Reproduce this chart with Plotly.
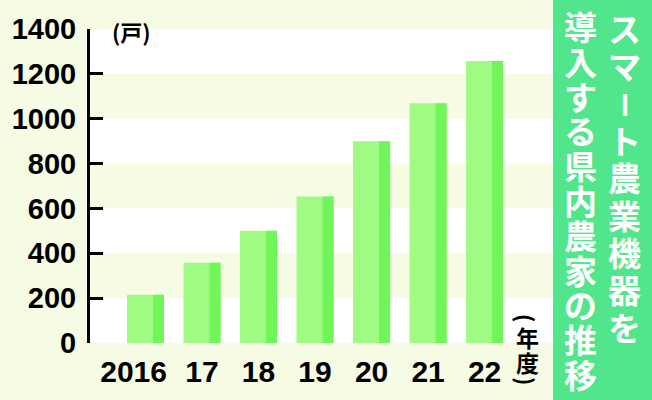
import plotly.graph_objects as go

# ---- data ----
years = ["2016", "17", "18", "19", "20", "21", "22"]
households = [215, 358, 501, 653, 899, 1069, 1257]
y_ticks = [0, 200, 400, 600, 800, 1000, 1200, 1400]
title_col1 = ["スマ", "ー", "ト農業機器を"]
title_col2 = "導入する県内農家の推移"
unit_y = "(戸)"
unit_x = ["(", "年度", ")"]

W, H = 652, 400
ML, MR, MT, MB = 90, 99, 29, 57
PW, PH = W - ML - MR, H - MT - MB

def px(x):
    return (x - ML) / PW

def py(y):
    return (H - MB - y) / PH

def stack(s, size):
    return "<br>".join('<span style="font-size:%dpx">%s</span>' % (size, c) for c in s)

CREAM = "#f6fbe3"
BAR = "#9ffb82"
BAR_DARK = "#70f55a"
PANEL = "#52e68c"
JP = "Noto Sans CJK JP"

xs = list(range(len(years)))
# label positions: the first (4-digit) label is nudged left as in the original
label_pos = [i - (0.21 if i == 0 else 0) for i in xs]

fig = go.Figure()
fig.add_trace(go.Bar(x=xs, y=households, width=0.655, offset=-0.3275,
                     marker=dict(color=BAR, line=dict(width=0)), hoverinfo="skip"))
fig.add_trace(go.Bar(x=xs, y=households, width=0.195, offset=0.1325,
                     marker=dict(color=BAR_DARK, line=dict(width=0)), hoverinfo="skip"))

shapes = []
for lo in (0, 400, 800, 1200):
    shapes.append(dict(type="rect", xref="paper", yref="y", x0=0, x1=1, y0=lo, y1=lo + 200,
                       fillcolor="white", line=dict(width=0), layer="below"))
shapes.append(dict(type="rect", xref="paper", yref="paper", x0=px(553), x1=px(W + 5),
                   y0=py(H + 5), y1=py(-5), fillcolor=PANEL, line=dict(width=0), layer="above"))

ann = []
# right column (vertical text), pitch 37.3 px
p1 = 37.3
b1 = p1 / 1.3
c0 = 30
ann.append(dict(text=stack(title_col1[0], 33), xref="paper", yref="paper",
                x=px(624), y=py(c0 + 0.5 * p1 - 2), showarrow=False, borderpad=0,
                xanchor="center", yanchor="middle",
                font=dict(family=JP, size=b1, color="white", weight="bold")))
ann.append(dict(text=title_col1[1], xref="paper", yref="paper",
                x=px(625), y=py(c0 + 2 * p1), showarrow=False, borderpad=0,
                xanchor="center", yanchor="middle", textangle=90,
                font=dict(family=JP, size=27, color="white", weight="bold")))
n3 = len(title_col1[2])
ann.append(dict(text=stack(title_col1[2], 33), xref="paper", yref="paper",
                x=px(624), y=py(c0 + (3 + (n3 - 1) / 2) * p1 - 2), showarrow=False, borderpad=0,
                xanchor="center", yanchor="middle",
                font=dict(family=JP, size=b1, color="white", weight="bold")))
# left column
p2 = 34.8
n2 = len(title_col2)
ann.append(dict(text=stack(title_col2, 33), xref="paper", yref="paper",
                x=px(580), y=py(28 + (n2 - 1) / 2 * p2 - 2), showarrow=False, borderpad=0,
                xanchor="center", yanchor="middle",
                font=dict(family=JP, size=p2 / 1.3, color="white", weight="bold")))
# unit of y axis
ann.append(dict(text=unit_y, xref="paper", yref="paper", x=px(111), y=py(31),
                showarrow=False, xanchor="left", yanchor="middle", borderpad=0,
                font=dict(family=JP, size=22, color="black", weight="bold")))
# unit of x axis (vertical)
ann.append(dict(text=unit_x[0], xref="paper", yref="paper", x=px(527), y=py(318),
                showarrow=False, xanchor="center", yanchor="middle", textangle=90, borderpad=0,
                font=dict(family=JP, size=22, color="black", weight="bold")))
ann.append(dict(text=stack(unit_x[1], 23), xref="paper", yref="paper", x=px(527), y=py(349),
                showarrow=False, xanchor="center", yanchor="middle", borderpad=0,
                font=dict(family=JP, size=25 / 1.3, color="black", weight="bold")))
ann.append(dict(text=unit_x[2], xref="paper", yref="paper", x=px(527), y=py(381),
                showarrow=False, xanchor="center", yanchor="middle", textangle=90, borderpad=0,
                font=dict(family=JP, size=22, color="black", weight="bold")))

fig.update_layout(
    width=W, height=H,
    margin=dict(l=ML, r=MR, t=MT, b=MB, pad=0),
    paper_bgcolor=CREAM, plot_bgcolor=CREAM,
    barmode="overlay", showlegend=False,
    shapes=shapes, annotations=ann,
    xaxis=dict(range=[-0.982, 7.21], tickvals=label_pos, ticktext=years, showgrid=False,
               zeroline=False, showline=False, ticks="", ticklabelstandoff=8,
               tickfont=dict(family="Liberation Sans", size=30, color="black", weight="bold")),
    yaxis=dict(range=[0, 1400], tickvals=y_ticks, showgrid=False, zeroline=False,
               showline=True, linecolor="black", linewidth=3, ticks="inside",
               ticklen=13, tickwidth=2.5, tickcolor="black", ticklabelstandoff=5,
               tickfont=dict(family="Liberation Sans", size=29, color="black", weight="bold")),
)
fig.write_html("out.html", config={"displayModeBar": False},
               post_script="document.body.style.margin='0';document.body.style.overflow='hidden';")
